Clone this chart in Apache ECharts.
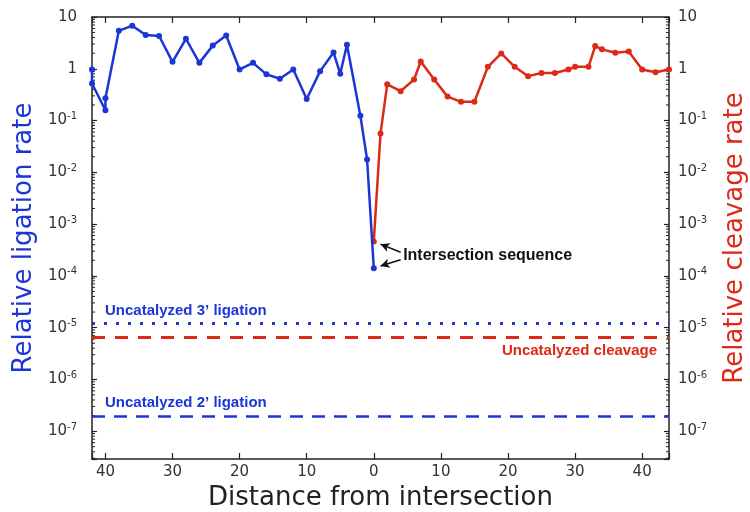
<!DOCTYPE html>
<html>
<head>
<meta charset="utf-8">
<script src="https://cdn.jsdelivr.net/npm/echarts@6/dist/echarts.min.js"></script>
<style>
  html, body { margin: 0; padding: 0; background: #fff; }
  #chart { width: 750px; height: 512px; }
</style>
</head>
<body>
<div id="chart"></div>
<script>
// distances from the intersection (ligation side is drawn to the left)
const distLigation = [42, 42, 40, 40, 38, 36, 34, 32, 30, 28, 26, 24, 22, 20, 18, 16, 14, 12, 10, 8, 6, 5, 4, 2, 1, 0]
const rateLigation = [0.97, 0.52, 0.158, 0.27, 5.4, 6.8, 4.5, 4.3, 1.36, 3.8, 1.3, 2.8, 4.4, 0.97, 1.3, 0.78, 0.64, 0.97, 0.26, 0.9, 2.07, 0.8, 2.9, 0.124, 0.0177, 1.41e-4]

const distCleavage = [0, 1, 2, 4, 6, 7, 9, 11, 13, 15, 17, 19, 21, 23, 25, 27, 29, 30, 32, 33, 34, 36, 38, 40, 42, 44]
const rateCleavage = [4.6e-4, 0.056, 0.50, 0.37, 0.62, 1.38, 0.62, 0.29, 0.23, 0.23, 1.09, 1.98, 1.09, 0.72, 0.83, 0.83, 0.97, 1.09, 1.09, 2.74, 2.37, 2.04, 2.16, 0.97, 0.86, 0.97]

// uncatalyzed background rates
const uncatLigation3 = 1.2e-5
const uncatCleavage = 6.6e-6
const uncatLigation2 = 1.9e-7

// axis ticks
const xTickStep = 10
const decades = [-8, -7, -6, -5, -4, -3, -2, -1, 0]
const minorMultipliers = [2, 3, 4, 5, 6, 7, 8, 9]

const X_MIN = -42
const X_MAX = 44
const Y_MIN = 2.9e-8
const Y_MAX = 10

const BLUE = '#1c36d6'
const RED = '#dc2a16'
const INK = '#222'

const ligationData = distLigation.map((d, i) => [-d, rateLigation[i]])
const cleavageData = distCleavage.map((d, i) => [d, rateCleavage[i]])

const minorTicks = []
decades.forEach(e => {
  minorMultipliers.forEach(m => {
    const v = m * Math.pow(10, e)
    if (v > Y_MIN && v < Y_MAX) minorTicks.push([X_MIN, v])
  })
})

function logLabel(v) {
  const e = Math.log10(v)
  const r = Math.round(e)
  if (Math.abs(e - r) > 1e-6) return ''
  if (r === 1) return '{b|10}'
  if (r === 0) return '{b|1}'
  return '{b|10}{s|' + r + '}'
}

const labelRich = {
  b: { fontSize: 15, lineHeight: 18, fontFamily: 'DejaVu Sans', color: '#333' },
  s: { fontSize: 10, verticalAlign: 'top', fontFamily: 'DejaVu Sans', color: '#333' }
}

const noteFont = { fontFamily: 'Liberation Sans', fontWeight: 'bold', fontSize: 15 }

// horizontal background line across the whole plot, with its caption
function baseline(value, dash, width, color, text, position, distance) {
  return [
    {
      coord: [X_MIN, value],
      symbol: 'none',
      lineStyle: { type: dash, width, color },
      label: Object.assign({ show: true, formatter: text, position, distance, color }, noteFont)
    },
    { coord: [X_MAX, value], symbol: 'none' }
  ]
}

function arrow(from, to) {
  return [
    { coord: from, symbol: 'none', lineStyle: { color: '#111', width: 1.5, type: 'solid' }, label: { show: false } },
    { coord: to, symbol: 'arrow', symbolSize: [7, 9] }
  ]
}

function xAxisBase(position) {
  return {
    type: 'value',
    position,
    min: X_MIN,
    max: X_MAX,
    splitNumber: 9,
    minInterval: xTickStep,
    maxInterval: xTickStep,
    axisLine: { show: true, onZero: false, lineStyle: { color: INK, width: 1.5 } },
    axisTick: { inside: true, length: 6, lineStyle: { color: INK, width: 1.2 } },
    splitLine: { show: false }
  }
}

function yAxisBase(position) {
  return {
    type: 'log',
    position,
    min: Y_MIN,
    max: Y_MAX,
    nameLocation: 'middle',
    nameRotate: 90,
    axisLine: { show: true, onZero: false, lineStyle: { color: INK, width: 1.5 } },
    axisTick: { inside: true, length: 5, lineStyle: { color: INK, width: 1.2 } },
    splitLine: { show: false }
  }
}

const chart = echarts.init(document.getElementById('chart'), null, { renderer: 'canvas' })

chart.setOption({
  animation: false,
  backgroundColor: '#fff',
  grid: { left: 92, right: 81, top: 17, bottom: 53, outerBoundsMode: 'none', containLabel: false },
  xAxis: [
    Object.assign(xAxisBase('bottom'), {
      name: 'Distance from intersection',
      nameLocation: 'middle',
      nameGap: 25,
      nameTextStyle: { color: INK, fontSize: 26, fontFamily: 'DejaVu Sans' },
      axisLabel: {
        margin: 6,
        color: '#333',
        fontSize: 15,
        fontFamily: 'DejaVu Sans',
        formatter: v => (v % xTickStep === 0 ? String(Math.abs(v)) : '')
      }
    }),
    Object.assign(xAxisBase('top'), { axisLabel: { show: false } })
  ],
  yAxis: [
    Object.assign(yAxisBase('left'), {
      name: 'Relative ligation rate',
      nameGap: 54,
      nameTextStyle: { color: BLUE, fontSize: 26, fontFamily: 'DejaVu Sans' },
      axisLabel: { margin: 15, formatter: logLabel, rich: labelRich }
    }),
    Object.assign(yAxisBase('right'), {
      name: 'Relative cleavage rate',
      nameGap: 53,
      nameTextStyle: { color: RED, fontSize: 26, fontFamily: 'DejaVu Sans' },
      axisLabel: { margin: 9, formatter: logLabel, rich: labelRich }
    })
  ],
  series: [
    {
      // log minor ticks on both frame sides
      type: 'custom',
      coordinateSystem: 'cartesian2d',
      silent: true,
      z: 3,
      data: minorTicks,
      renderItem: (params, api) => {
        const v = api.value(1)
        const l = api.coord([X_MIN, v])
        const r = api.coord([X_MAX, v])
        const style = { stroke: INK, lineWidth: 1 }
        return {
          type: 'group',
          children: [
            { type: 'line', shape: { x1: l[0], y1: l[1], x2: l[0] + 3, y2: l[1] }, style },
            { type: 'line', shape: { x1: r[0] - 3, y1: r[1], x2: r[0], y2: r[1] }, style }
          ]
        }
      }
    },
    {
      name: 'Ligation',
      type: 'line',
      data: ligationData,
      color: BLUE,
      symbol: 'circle',
      symbolSize: 6,
      lineStyle: { width: 2.5, color: BLUE },
      z: 5,
      markLine: {
        silent: true,
        animation: false,
        data: [
          baseline(uncatLigation3, [3, 9], 3, BLUE, 'Uncatalyzed 3’ ligation', 'insideStartTop', [13, 5]),
          baseline(uncatLigation2, [13, 9], 2.5, BLUE, 'Uncatalyzed 2’ ligation', 'insideStartTop', [13, 6])
        ]
      }
    },
    {
      name: 'Cleavage',
      type: 'line',
      yAxisIndex: 1,
      data: cleavageData,
      color: RED,
      symbol: 'circle',
      symbolSize: 6,
      lineStyle: { width: 2.5, color: RED },
      z: 4,
      markLine: {
        silent: true,
        animation: false,
        data: [
          baseline(uncatCleavage, [13, 10], 3, RED, 'Uncatalyzed cleavage', 'insideEndBottom', [12, 6]),
          arrow([4.0, 2.85e-4], [1.0, 4.1e-4]),
          arrow([4.0, 2.05e-4], [1.0, 1.55e-4])
        ]
      },
      markPoint: {
        silent: true,
        animation: false,
        data: [
          {
            coord: [4.3, 2.45e-4],
            symbol: 'circle',
            symbolSize: 1,
            itemStyle: { color: 'rgba(0,0,0,0)' },
            label: Object.assign({ show: true, formatter: 'Intersection sequence', position: 'right', distance: 0, color: '#111' }, noteFont, { fontSize: 16 })
          }
        ]
      }
    }
  ]
})
</script>
</body>
</html>
